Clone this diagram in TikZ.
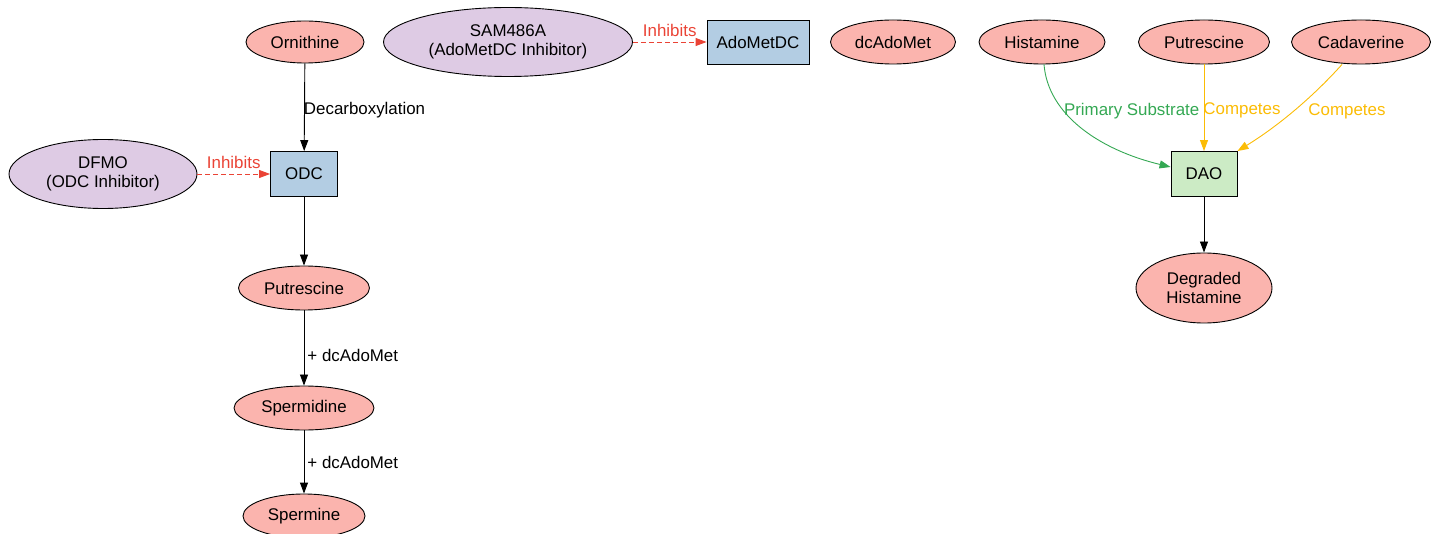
\documentclass[tikz,border=0pt]{standalone}
\usepackage{fontspec}
\setmainfont{Liberation Sans}
\usetikzlibrary{shapes.geometric,arrows.meta}

\definecolor{salmon}{HTML}{FBB4AE}
\definecolor{lavender}{HTML}{DECBE4}
\definecolor{paleblue}{HTML}{B3CDE3}
\definecolor{palegreen}{HTML}{CCEBC5}
\definecolor{inhred}{HTML}{EA4335}
\definecolor{subgreen}{HTML}{34A853}
\definecolor{compamber}{HTML}{FBBC05}

\tikzset{
	metab/.style={draw,ellipse,fill=salmon,inner sep=0,minimum height=44pt,align=center},
	drug/.style={draw,ellipse,fill=lavender,inner sep=0,minimum height=69pt,align=center},
	enz/.style={draw,rectangle,fill=paleblue,inner sep=0,minimum height=45pt},
	flow/.style={-{Triangle[length=11pt,width=8pt]},line width=0.9pt},
	inhib/.style={flow,inhred,dash pattern=on 5pt off 3pt},
	lbl/.style={inner sep=1pt,anchor=west}
}

\begin{document}
\begin{tikzpicture}[x=1pt,y=-1pt,line width=0.9pt,font=\fontsize{16.9}{19.5}\selectfont]
	\useasboundingbox (0,0) rectangle (1440,534);
	% polyamine synthesis
	\node[metab,minimum width=118pt,minimum height=42pt] (orn) at (305,42) {Ornithine};
	\node[drug,minimum width=188pt] (dfmo) at (103,174) {DFMO\\(ODC Inhibitor)};
	\node[enz,minimum width=67pt] (odc) at (304,174) {ODC};
	\node[metab,minimum width=131pt] (putA) at (304,288) {Putrescine};
	\node[metab,minimum width=140pt] (spd) at (304,408) {Spermidine};
	\node[metab,minimum width=122pt] (spm) at (304,516) {Spermine};
	% AdoMetDC branch
	\node[drug,minimum width=249pt] (sam) at (508,42) {SAM486A\\(AdoMetDC Inhibitor)};
	\node[enz,minimum width=102pt,minimum height=44pt] (amd) at (758,42) {AdoMetDC};
	\node[metab,minimum width=125pt] (dcam) at (893,42) {dcAdoMet};
	% DAO branch
	\node[metab,minimum width=126pt] (hist) at (1042,42) {Histamine};
	\node[metab,minimum width=131pt] (putB) at (1204,42) {Putrescine};
	\node[metab,minimum width=139pt] (cad) at (1361,42) {Cadaverine};
	\node[enz,fill=palegreen,minimum width=66pt] (dao) at (1204,174) {DAO};
	\node[metab,minimum width=136pt,minimum height=70pt] (deg) at (1204,288) {Degraded\\Histamine};

	\draw[flow] (orn) -- node[lbl,xshift=-2pt,yshift=-3pt] {Decarboxylation} (odc);
	\draw[inhib] (dfmo) -- node[above,inner sep=5pt] {Inhibits} (odc);
	\draw[flow] (odc) -- (putA);
	\draw[flow] (putA) -- node[lbl,pos=0.6,xshift=2pt] {+ dcAdoMet} (spd);
	\draw[flow] (spd) -- node[lbl,xshift=2pt] {+ dcAdoMet} (spm);
	\draw[inhib] (sam) -- node[above,inner sep=5pt] {Inhibits} (amd);

	\draw[flow,subgreen] ([xshift=2pt]hist.south) .. controls (1048,115) and (1100,150) .. ([yshift=7pt]dao.west)
		node[lbl,pos=0.33,yshift=-2pt] {Primary Substrate};
	\draw[flow,compamber] (putB) -- node[lbl,xshift=-2pt,yshift=-3pt] {Competes} (dao);
	\draw[flow,compamber] ([xshift=-19pt]cad.south) .. controls (1310,100) and (1275,128) .. (dao.north east)
		node[lbl,pos=0.45,xshift=10pt,yshift=-3pt] {Competes};
	\draw[flow] (dao) -- (deg);
\end{tikzpicture}
\end{document}
